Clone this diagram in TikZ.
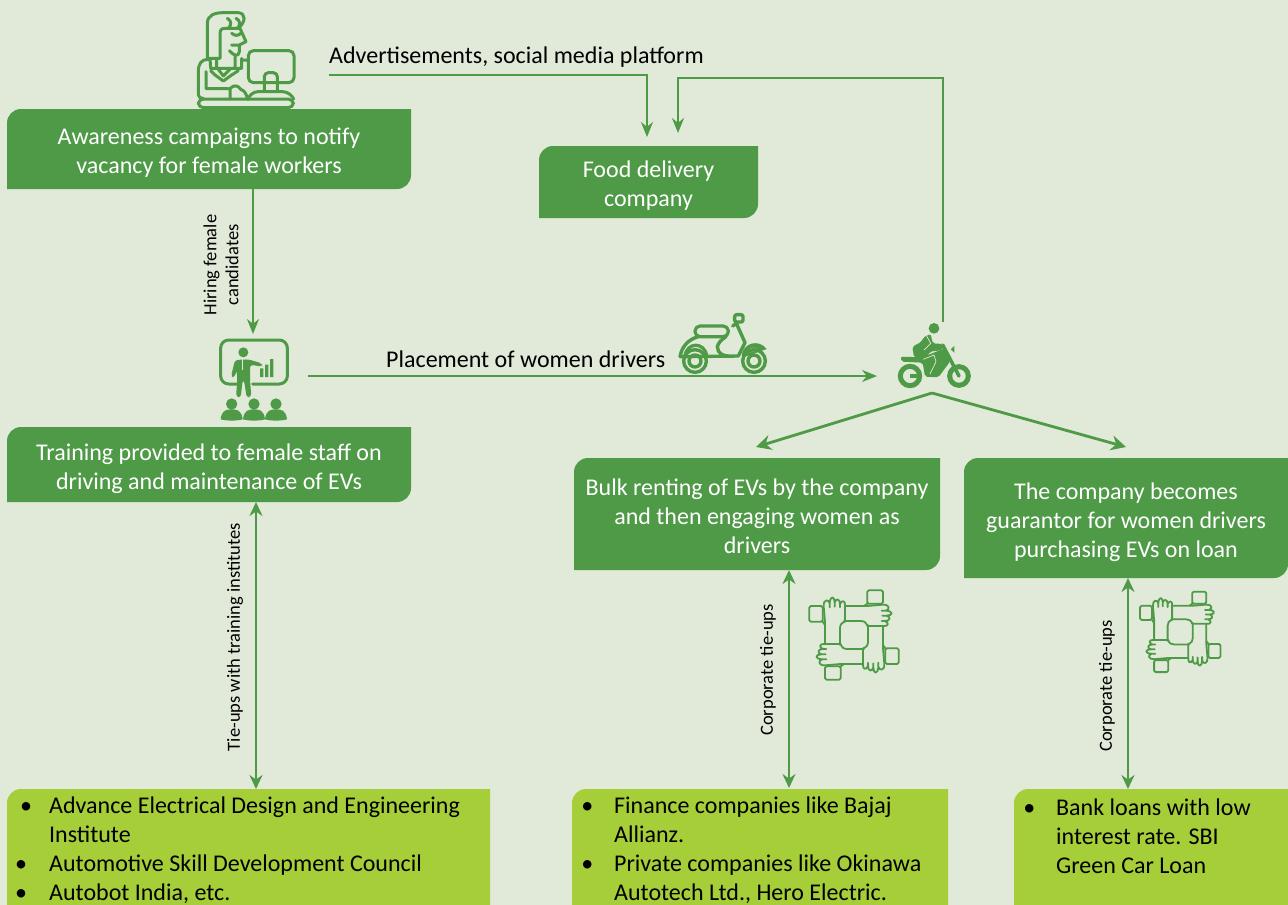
\documentclass[tikz,border=0pt]{standalone}
\usepackage{fontspec}
\setmainfont{Carlito}
\usetikzlibrary{arrows.meta}
\definecolor{bgc}{HTML}{E1E9D9}
\definecolor{grn}{HTML}{4E9A47}
\definecolor{lim}{HTML}{A5CE39}
\tikzset{
 flow/.style={draw=grn,line width=1.2pt,-{Stealth[length=15pt,width=12pt]}},
 thick flow/.style={draw=grn,line width=2.8pt,-{Stealth[length=15pt,width=15pt]}},
 both flow/.style={draw=grn,line width=2.8pt,{Stealth[length=14pt,width=13pt]}-{Stealth[length=14pt,width=13pt]}},
 boxtext/.style={text=white,align=center,font=\fontsize{24}{29}\selectfont,inner sep=0pt},
 listtext/.style={text=black,align=left,font=\fontsize{24}{29}\selectfont,inner sep=0pt,anchor=north west},
 plain/.style={text=black,font=\fontsize{24}{29}\selectfont,inner sep=0pt},
 small/.style={text=black,align=center,rotate=90,font=\fontsize{18.5}{22}\selectfont,inner sep=0pt},
 icon/.style={draw=grn,line width=#1,line join=round,line cap=round},
 icon/.default=3pt
}
% [text shift], name, x0,y0,x1,y1, colour, text
\newcommand{\cornerbox}[8][-3.8pt]{%
 \fill[#7] (#3,#4+14) arc[start angle=180,end angle=90,radius=14pt] -- (#5,#4) -- (#5,#6-14)
   arc[start angle=0,end angle=-90,radius=14pt] -- (#3,#6) -- cycle;
 \node[boxtext,yshift=#1] (#2) at ({(#3+#5)/2},{(#4+#6)/2}) {#8};
}
\newcommand{\handunit}{%
 \draw[icon=1.8pt,rounded corners=1.5pt] (88,108) rectangle (128,155);
 \draw[icon=1.8pt] (128,155)--(135,165) (135,222)--(135,155)--(131,108)
  .. controls (130,88) and (146,86) .. (149,100)
  .. controls (150,76) and (164,78) .. (164,97)
  .. controls (168,84) and (180,86) .. (180,102)
  .. controls (186,88) and (197,92) .. (195,108) -- (195,155)
  (195,155) .. controls (184,158) and (180,165) .. (180,175) -- (180,225)
  (149,100)--(149,112) (164,97)--(164,110) (180,102)--(180,112);
}
\newcommand{\handshake}[3]{%
 \begin{scope}[shift={(#1,#2)},x=#3pt/3,y=-#3pt/3]
 \foreach \a in {0,90,180,270}{
  \begin{scope}[rotate around={-\a:(222,195)}]\handunit\end{scope}}
 \end{scope}
}
\begin{document}
\begin{tikzpicture}[x=1pt,y=-1pt]
\useasboundingbox (0,0) rectangle (1288,905);
\fill[bgc] (0,0) rectangle (1288,905);

% woman icon
\begin{scope}[shift={(170,0)},x=1pt/3,y=-1pt/3]
 \draw[icon,rounded corners=5pt] (85,297) rectangle (370,323);
 \draw[icon,rounded corners=5pt] (235,152) rectangle (372,248);
 \draw[icon,rounded corners=4pt] (283,272)--(283,218)--(322,218)--(322,272);
 \draw[icon,rounded corners=8pt] (235,295)--(240,275)--(362,275)--(370,295);
 \draw[icon] (122,175) -- (112,175) -- (112,70) .. controls (112,45) and (135,38) .. (160,38)
   -- (205,38) .. controls (228,40) and (228,65) .. (205,85)
   -- (165,85) .. controls (152,85) and (150,92) .. (150,105) -- (150,175) -- (122,175);
 \draw[icon] (172,55) .. controls (185,62) and (185,75) .. (175,85)
   (198,55) .. controls (212,62) and (212,75) .. (202,85)
   (210,85)--(228,125)--(208,135)--(208,155) .. controls (205,170) and (195,170) .. (178,152)
   (185,100) .. controls (195,108) and (205,108) .. (212,100)
   (185,135)--(205,135);
 \draw[icon] (120,175)--(122,205)--(215,205)--(215,175)
   (140,178)--(140,205) (195,170)--(195,205)
   (135,225)--(160,243)--(185,225)--(205,212) (135,225)--(122,212)
   (145,208)--(160,228)--(180,208);
 \draw[icon] (115,178) .. controls (95,178) and (85,190) .. (85,215) -- (85,280) .. controls (85,290) and (90,295) .. (100,295)
   (108,215)--(108,266)--(175,266)
   (180,294)--(180,265) .. controls (195,252) and (205,258) .. (212,268) .. controls (225,272) and (228,282) .. (232,294)
   (215,180)--(235,180);
\end{scope}

% presenter icon
\begin{scope}[shift={(200,330)},x=1pt/3,y=-1pt/3]
 \draw[icon=3pt,rounded corners=8pt] (110,162)--(62,162)--(62,30)--(262,30)--(262,162)--(158,162);
 \fill[grn] (130,67) circle[radius=15];
 \fill[grn,rounded corners=3pt] (105,90)--(145,88)--(185,100)--(187,110)--(150,104)--(150,150)--(154,200)--(140,203)--(132,150)--(128,150)--(122,203)--(108,200)--(112,150)--(110,120)--(104,142)--(93,140)--cycle;
 \draw[bgc,line width=.8pt] (128,88)--(128,120);
 \fill[grn] (180,115) rectangle (190,141) (195,104) rectangle (205,141) (210,87) rectangle (220,141);
 \foreach \cx in {95,162,228}{
  \fill[grn] (\cx,222) circle[radius=17];
  \fill[grn] (\cx-33,268) .. controls (\cx-30,240) and (\cx-15,238) .. (\cx,238) .. controls (\cx+15,238) and (\cx+30,240) .. (\cx+33,268) .. controls (\cx+15,273) and (\cx-15,273) .. (\cx-33,268) -- cycle;
 }
\end{scope}

% scooter and motorbike icons
\begin{scope}[shift={(660,300)},x=1pt/3,y=-1pt/3]
 \draw[icon=3.2pt,rounded corners=5pt] (105,78) rectangle (205,110);
 \draw[icon=3.4pt] (60,170) .. controls (65,140) and (85,118) .. (115,110)
   (198,110) .. controls (185,118) and (175,128) .. (172,140) .. controls (172,160) and (190,168) .. (205,168) -- (235,168) -- (60,170)
   (235,168) -- (255,128) -- (230,72) (218,78)--(232,68);
 \draw[icon=3.4pt,rounded corners=2pt] (224,44) rectangle (249,66);
 \fill[grn] (245,165) .. controls (250,130) and (295,115) .. (320,147) -- (250,172) -- cycle;
 \fill[bgc] (258,160) .. controls (265,142) and (285,138) .. (298,150) -- cycle;
 \draw[icon=3.2pt] (75,168) .. controls (80,125) and (135,125) .. (140,168);
 \foreach \cx in {105,282}{
  \draw[icon=3.4pt] (\cx,183) circle[radius=34];
  \draw[icon=3.4pt] (\cx,183) circle[radius=18];
 }
 \fill[grn] (822,85) circle[radius=16];
 \fill[grn,rounded corners=2pt] (790,112)--(812,102)--(818,130)--(848,132)--(848,150)--(810,155)--(795,180)--(762,172)--(757,140)--(785,125)--cycle;
 \fill[grn,rounded corners=2pt] (722,170)--(785,172)--(855,145)--(870,185)--(835,232)--(795,230)--(788,188)--(725,185)--cycle;
 \draw[bgc,line width=.7pt] (800,108)--(812,130)--(792,150) (790,178)--(822,165)--(828,185)--(810,222);
 \draw[grn,line width=3.6pt,line cap=round] (848,135)--(897,228);
 \fill[grn] (872,148)--(883,138)--(883,158)--cycle;
 \draw[grn,line width=5pt] (750,228) circle[radius=29];
 \fill[grn] (750,222) rectangle (785,234);
 \draw[grn,line width=5pt] (897,228) circle[radius=28];
\end{scope}

\handshake{780}{570}{1}
\handshake{1113.6}{573.4}{0.9}

% boxes
\cornerbox{aware}{7}{109}{411}{189}{grn}{Awareness campaigns to notify\\vacancy for female workers}
\cornerbox{food}{539}{146}{758}{218}{grn}{Food delivery\\company}
\cornerbox{train}{7}{427}{411}{502}{grn}{Training provided to female staff on\\driving and maintenance of EVs}
\cornerbox[-1.8pt]{bulk}{574}{458}{940}{570}{grn}{Bulk renting of EVs by the company\\and then engaging women as\\drivers}
\cornerbox{guar}{964}{458}{1288}{578}{grn}{The company becomes\\guarantor for women drivers\\purchasing EVs on loan}
\cornerbox{lima}{7}{789}{490}{919}{lim}{}
\cornerbox{limb}{572}{789}{948}{919}{lim}{}
\cornerbox{limc}{1014}{789}{1288}{919}{lim}{}

\node[listtext] at (49,797) {\makebox[0pt][r]{\textbullet\hspace{17pt}}Advance Electrical Design and Engineering\\Institute\\\makebox[0pt][r]{\textbullet\hspace{22pt}}Automotive Skill Development Council\\\makebox[0pt][r]{\textbullet\hspace{22pt}}Autobot India, etc.};
\node[listtext] at (614,797) {\makebox[0pt][r]{\textbullet\hspace{21pt}}Finance companies like Bajaj\\Allianz.\\\makebox[0pt][r]{\textbullet\hspace{21pt}}Private companies like Okinawa\\Autotech Ltd., Hero Electric.};
\node[listtext] at (1056,799) {\makebox[0pt][r]{\textbullet\hspace{21pt}}Bank loans with low\\interest rate. SBI\\Green Car Loan};

% connector ends
\coordinate (adv) at (329,75);
\coordinate (womanbase) at (253,189);
\coordinate (trainicon) at (253,334);
\coordinate (placefrom) at (308,376);
\coordinate (motoleft) at (877,376);
\coordinate (mototop) at (943,322);
\coordinate (apex) at (932,393);
\coordinate (foodL) at (647,137);
\coordinate (foodR) at (678,133);
\coordinate (bulkT) at (756,447);
\coordinate (guarT) at (1126,447);

\draw[flow] (adv) -- (adv -| foodL) -- (foodL);
\draw[flow] (mototop) -- (943,78) -- (678,78) -- (foodR);
\draw[flow] (womanbase) -- (trainicon);
\draw[flow] (placefrom) -- (motoleft);
\draw[thick flow] (apex) -- (bulkT);
\draw[thick flow] (apex) -- (guarT);
\draw[both flow] (256,502) -- (256,789);
\draw[both flow] (789,570) -- (789,788);
\draw[both flow] (1128,578) -- (1128,789);

% labels
\node[plain,anchor=base west] at (329,63) {Advertisements, social media platform};
\node[plain,anchor=base west] at (386,367) {Placement of women drivers};
\node[small] at (221,265) {Hiring female\\candidates};
\node[small] at (235,637) {Tie-ups with training institutes};
\node[small] at (768,670) {Corporate tie-ups};
\node[small] at (1107,686) {Corporate tie-ups};
\end{tikzpicture}
\end{document}
